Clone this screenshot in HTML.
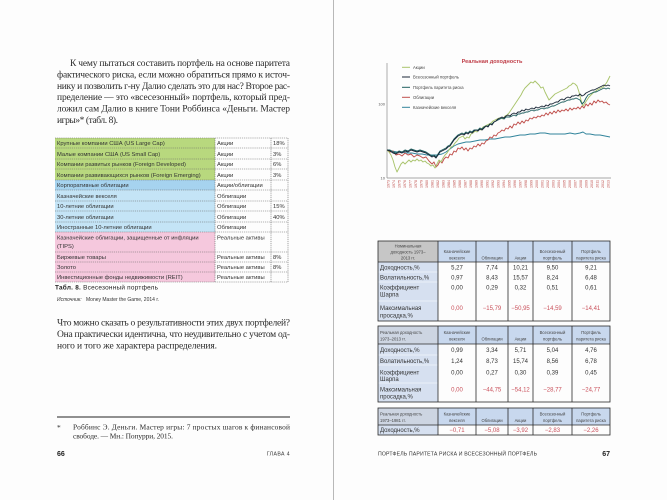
<!DOCTYPE html>
<html><head><meta charset="utf-8"><style>
html,body{margin:0;padding:0;background:#fdfdfd;}
svg{display:block;}
.s{font-family:"Liberation Serif","Noto Serif CJK SC",serif;fill:#2a2a2a;}
.a{font-family:"Liberation Sans","Noto Sans CJK SC",sans-serif;}
</style></head><body>
<svg width="667" height="500" viewBox="0 0 667 500" xmlns="http://www.w3.org/2000/svg">
<rect x="0" y="0" width="667" height="500" fill="#fdfdfd"/>
<line x1="333.5" y1="0" x2="333.5" y2="500" stroke="#b8b8b8" stroke-width="1"/>

<!-- LEFT PAGE TEXT -->
<g class="s" font-size="9.5">
<text x="70" y="66" textLength="220" lengthAdjust="spacing">К чему пытаться составить портфель на основе паритета</text>
<text x="57" y="77.4" textLength="233" lengthAdjust="spacing">фактического риска, если можно обратиться прямо к источ-</text>
<text x="57" y="88.8" textLength="233" lengthAdjust="spacing">нику и позволить г-ну Далио сделать это для нас? Второе рас-</text>
<text x="57" y="100.2" textLength="233" lengthAdjust="spacing">пределение — это «всесезонный» портфель, который пред-</text>
<text x="57" y="111.6" textLength="233" lengthAdjust="spacing">ложил сам Далио в книге Тони Роббинса «Деньги. Мастер</text>
<text x="57" y="123" textLength="61" lengthAdjust="spacing">игры»* (табл. 8).</text>

<text x="57" y="325.3" textLength="233" lengthAdjust="spacing">Что можно сказать о результативности этих двух портфелей?</text>
<text x="57" y="337" textLength="233" lengthAdjust="spacing">Она практически идентична, что неудивительно с учетом од-</text>
<text x="57" y="348.7" textLength="160" lengthAdjust="spacing">ного и того же характера распределения.</text>
</g>

<line x1="57" y1="417" x2="290" y2="417" stroke="#222" stroke-width="0.9"/>
<g class="s" font-size="7.4">
<text x="57" y="430">*</text>
<text x="73" y="429.5" textLength="217" lengthAdjust="spacing">Роббинс Э. Деньги. Мастер игры: 7 простых шагов к финансовой</text>
<text x="73" y="438.5" textLength="100" lengthAdjust="spacing">свободе. — Мн.: Попурри, 2015.</text>
</g>

<text class="a" x="57" y="456" font-size="7" font-weight="bold" fill="#222">66</text>
<text class="a" x="290" y="455.5" font-size="5.2" fill="#333" text-anchor="end" letter-spacing="0.4">ГЛАВА 4</text>

<!-- LEFT TABLE -->
<g>
<rect x="55" y="138" width="160" height="42" fill="#b8d87e"/>
<rect x="55" y="180" width="160" height="10" fill="#a6d3ef"/>
<rect x="55" y="190" width="160" height="42" fill="#c4e4f6"/>
<rect x="55" y="232" width="160" height="50" fill="#f5c8dd"/>
<g stroke="#666" stroke-width="0.6" stroke-dasharray="1.2,0.9" fill="none">
<line x1="55" y1="138" x2="288" y2="138"/>
<line x1="55" y1="148" x2="288" y2="148"/>
<line x1="55" y1="159" x2="288" y2="159"/>
<line x1="55" y1="169" x2="288" y2="169"/>
<line x1="55" y1="180" x2="288" y2="180"/>
<line x1="55" y1="190" x2="288" y2="190"/>
<line x1="55" y1="201" x2="288" y2="201"/>
<line x1="55" y1="211" x2="288" y2="211"/>
<line x1="55" y1="222" x2="288" y2="222"/>
<line x1="55" y1="232" x2="288" y2="232"/>
<line x1="55" y1="252" x2="288" y2="252"/>
<line x1="55" y1="262" x2="288" y2="262"/>
<line x1="55" y1="272" x2="288" y2="272"/>
<line x1="55" y1="282" x2="288" y2="282"/>
<line x1="215" y1="138" x2="215" y2="282"/>
<line x1="271" y1="138" x2="271" y2="282"/>
<line x1="288" y1="138" x2="288" y2="282"/>
</g>
<g class="a" font-size="5.8" fill="#333">
<text x="57" y="145.2">Крупные компании США (US Large Cap)</text>
<text x="57" y="155.8">Малые компании США (US Small Cap)</text>
<text x="57" y="166.2">Компании развитых рынков (Foreign Developed)</text>
<text x="57" y="176.8">Компании развивающихся рынков (Foreign Emerging)</text>
<text x="57" y="187.2">Корпоративные облигации</text>
<text x="57" y="197.8">Казначейские векселя</text>
<text x="57" y="208.2">10-летние облигации</text>
<text x="57" y="218.8">30-летние облигации</text>
<text x="57" y="229.2">Иностранные 10-летние облигации</text>
<text x="57" y="239.5">Казначейские облигации, защищенные от инфляции</text>
<text x="57" y="248">(TIPS)</text>
<text x="57" y="259.2">Биржевые товары</text>
<text x="57" y="269.2">Золото</text>
<text x="57" y="279.2">Инвестиционные фонды недвижимости (REIT)</text>

<text x="217" y="145.2">Акции</text>
<text x="217" y="155.8">Акции</text>
<text x="217" y="166.2">Акции</text>
<text x="217" y="176.8">Акции</text>
<text x="217" y="187.2">Акции/облигации</text>
<text x="217" y="197.8">Облигации</text>
<text x="217" y="208.2">Облигации</text>
<text x="217" y="218.8">Облигации</text>
<text x="217" y="229.2">Облигации</text>
<text x="217" y="239.5">Реальные активы</text>
<text x="217" y="259.2">Реальные активы</text>
<text x="217" y="269.2">Реальные активы</text>
<text x="217" y="279.2">Реальные активы</text>

<text x="273" y="145.2">18%</text>
<text x="273" y="155.8">3%</text>
<text x="273" y="166.2">6%</text>
<text x="273" y="176.8">3%</text>
<text x="273" y="208.2">15%</text>
<text x="273" y="218.8">40%</text>
<text x="273" y="259.2">8%</text>
<text x="273" y="269.2">8%</text>
</g>
<text class="a" x="55" y="289.6" font-size="6.4" fill="#222" textLength="103" lengthAdjust="spacing"><tspan font-weight="bold">Табл. 8.</tspan> Всесезонный портфель</text>
<text class="a" x="57" y="301" font-size="5" fill="#333" font-style="italic">Источник:</text>
<text class="a" x="86" y="301" font-size="5" fill="#333">Money Master the Game, 2014 г.</text>
</g>

<!-- CHART -->
<g>
<text class="a" x="492" y="63" font-size="5.6" fill="#c0404a" text-anchor="middle" font-weight="bold">Реальная доходность</text>
<line x1="387" y1="63" x2="387" y2="178" stroke="#8a8a8a" stroke-width="0.7"/>
<line x1="387" y1="178" x2="611" y2="178" stroke="#8a8a8a" stroke-width="0.7"/>
<text class="a" x="385" y="105.5" font-size="4" fill="#555" text-anchor="end">100</text>
<text class="a" x="385" y="179.5" font-size="4" fill="#555" text-anchor="end">10</text>

<g stroke-width="1">
<line x1="402" y1="67.3" x2="410" y2="67.3" stroke="#a9c46c"/>
<line x1="402" y1="77" x2="410" y2="77" stroke="#1b2838"/>
<line x1="402" y1="87.3" x2="410" y2="87.3" stroke="#1f6060"/>
<line x1="402" y1="97.3" x2="410" y2="97.3" stroke="#c0504d"/>
<line x1="402" y1="107.3" x2="410" y2="107.3" stroke="#31849b"/>
</g>
<g class="a" font-size="4.2" fill="#444">
<text x="413" y="68.8">Акции</text>
<text x="413" y="78.5">Всесезонный портфель</text>
<text x="413" y="88.8">Портфель паритета риска</text>
<text x="413" y="98.8">Облигации</text>
<text x="413" y="108.8">Казначейские векселя</text>
</g>

<g fill="none" stroke-linejoin="round" stroke-width="0.95">
<polyline stroke="#31849b" points="387,150 392,151 397,152 402,152 407,153 412,153 417,154 422,154 427,155 432,155 437,155 442,154 446,152 450,149 454,146 458,144 462,143 466,142 470,142 475,141 480,140 485,140 490,139 495,139 500,138 505,137 510,137 515,136 520,135 525,135 530,134 535,134 540,133 545,133 550,134 555,134 560,134 565,134 570,133 575,134 580,133 583,132 586,134 590,134 595,135 600,135 605,136 610,137"/>
<polyline stroke="#c0504d" points="387,150 390,152 393,151 396,155 399,154 402,156 405,153 408,155 411,154 414,157 417,155 420,156 423,158 426,157 429,161 432,164 434,162 436,167 438,165 440,161 442,163 444,159 446,157 448,158 450,154 452,155 454,151 456,152 458,148 460,149 462,147 464,150 466,148 468,151 470,148 472,149 474,146 476,147 478,144 480,146 482,143 484,144 486,141 488,140 490,137 492,138 494,135 496,136 498,133 500,132 502,130 504,131 506,128 508,129 510,126 512,128 514,124 516,125 518,122 520,124 522,121 524,123 526,120 528,121 530,118 532,119 534,117 536,118 538,116 540,117 542,115 544,116 546,113 548,115 550,112 552,114 554,111 556,113 558,110 560,112 562,110 564,111 566,109 568,111 570,108 572,110 574,108 576,109 578,107 580,109 582,106 584,108 586,104 588,106 590,103 592,105 594,101 596,103 598,100 600,102 602,101 604,103 606,102 608,104 610,105"/>
<polyline stroke="#a9c46c" points="387,150 389,152 391,155 393,160 395,167 397,172 399,168 401,164 403,162 405,164 407,162 409,160 411,162 413,160 415,161 417,159 419,161 421,160 423,162 425,161 427,163 429,164 431,166 433,165 435,168 437,164 439,160 441,162 443,158 445,155 447,153 449,150 451,147 453,146 455,143 457,141 459,138 461,137 463,136 465,139 467,137 469,138 471,134 473,133 475,131 477,132 479,129 481,130 483,127 485,126 487,125 489,124 491,123 493,121 495,120 497,119 499,118 501,118 503,119 505,116 507,115 509,113 511,110 513,107 515,104 517,101 519,98 521,95 523,91 525,88 527,86 529,84 531,82 533,83 535,81 537,83 539,85 541,88 543,87 545,92 547,96 549,100 551,98 553,96 555,94 557,93 559,92 561,91 563,90 565,89 567,88 569,86 571,85 573,83 575,84 577,86 579,92 581,100 583,106 585,103 587,100 589,97 591,95 593,93 595,92 597,90 599,89 601,88 603,87 605,85 607,82 609,78 610,76"/>
<polyline stroke="#1f6060" points="387,150 390,150 393,152 396,153 399,151 402,152 405,150 408,151 411,149 414,150 417,151 420,150 423,151 426,152 429,154 432,156 434,155 436,157 438,154 440,151 442,150 444,149 446,148 448,146 450,145 452,142 454,139 456,137 458,135 460,134 462,133 464,134 466,132 468,133 470,131 472,132 474,130 476,130 478,130 480,128 482,129 484,127 486,126 488,126 490,124 492,124 494,122 496,121 498,120 500,119 502,118 504,119 506,117 508,117 510,117 512,116 514,115 516,116 518,114 520,114 522,113 524,113 526,112 528,112 530,111 532,110 534,111 536,110 538,110 540,109 542,108 544,109 546,108 548,108 550,107 552,106 554,106 556,105 558,104 560,103 562,102 564,102 566,101 568,100 570,100 572,99 574,99 576,98 578,99 580,100 582,104 584,102 586,98 588,95 590,94 592,93 594,92 596,92 598,91 600,90 602,89 604,88 606,89 608,88 610,89"/>
<polyline stroke="#1b2838" points="387,150 390,151 393,153 396,154 399,152 402,153 405,151 408,152 411,150 414,151 417,152 420,151 423,152 426,153 429,155 432,157 434,156 436,158 438,155 440,152 442,151 444,150 446,149 448,147 450,146 452,143 454,140 456,138 458,136 460,135 462,134 464,135 466,133 468,134 470,132 472,133 474,131 476,130 478,131 480,129 482,130 484,128 486,126 488,127 490,124 492,125 494,122 496,121 498,119 500,118 502,117 504,118 506,116 508,115 510,116 512,114 514,113 516,114 518,112 520,112 522,110 524,111 526,109 528,110 530,109 532,108 534,109 536,107 538,108 540,107 542,106 544,107 546,105 548,106 550,104 552,104 554,103 556,102 558,102 560,100 562,99 564,100 566,98 568,97 570,98 572,96 574,96 576,95 578,96 580,94 582,96 584,95 586,93 588,92 590,91 592,90 594,90 596,89 598,88 600,87 602,86 604,85 606,86 608,85 610,86"/>
</g>

<g class="a" font-size="3.6" fill="#c0504d" text-anchor="end">
<text transform="translate(389.3,180) rotate(-90)">1973</text>
<text transform="translate(394.8,180) rotate(-90)">1974</text>
<text transform="translate(400.3,180) rotate(-90)">1975</text>
<text transform="translate(405.8,180) rotate(-90)">1976</text>
<text transform="translate(411.3,180) rotate(-90)">1977</text>
<text transform="translate(416.8,180) rotate(-90)">1978</text>
<text transform="translate(422.3,180) rotate(-90)">1979</text>
<text transform="translate(427.8,180) rotate(-90)">1980</text>
<text transform="translate(433.3,180) rotate(-90)">1981</text>
<text transform="translate(438.8,180) rotate(-90)">1982</text>
<text transform="translate(444.3,180) rotate(-90)">1983</text>
<text transform="translate(449.8,180) rotate(-90)">1984</text>
<text transform="translate(455.3,180) rotate(-90)">1985</text>
<text transform="translate(460.8,180) rotate(-90)">1986</text>
<text transform="translate(466.3,180) rotate(-90)">1987</text>
<text transform="translate(471.8,180) rotate(-90)">1988</text>
<text transform="translate(477.3,180) rotate(-90)">1989</text>
<text transform="translate(482.8,180) rotate(-90)">1990</text>
<text transform="translate(488.3,180) rotate(-90)">1991</text>
<text transform="translate(493.8,180) rotate(-90)">1992</text>
<text transform="translate(499.3,180) rotate(-90)">1993</text>
<text transform="translate(504.8,180) rotate(-90)">1994</text>
<text transform="translate(510.3,180) rotate(-90)">1995</text>
<text transform="translate(515.8,180) rotate(-90)">1996</text>
<text transform="translate(521.3,180) rotate(-90)">1997</text>
<text transform="translate(526.8,180) rotate(-90)">1998</text>
<text transform="translate(532.3,180) rotate(-90)">1999</text>
<text transform="translate(537.8,180) rotate(-90)">2000</text>
<text transform="translate(543.3,180) rotate(-90)">2001</text>
<text transform="translate(548.8,180) rotate(-90)">2002</text>
<text transform="translate(554.3,180) rotate(-90)">2003</text>
<text transform="translate(559.8,180) rotate(-90)">2004</text>
<text transform="translate(565.3,180) rotate(-90)">2005</text>
<text transform="translate(570.8,180) rotate(-90)">2006</text>
<text transform="translate(576.3,180) rotate(-90)">2007</text>
<text transform="translate(581.8,180) rotate(-90)">2008</text>
<text transform="translate(587.3,180) rotate(-90)">2009</text>
<text transform="translate(592.8,180) rotate(-90)">2010</text>
<text transform="translate(598.3,180) rotate(-90)">2011</text>
<text transform="translate(603.8,180) rotate(-90)">2012</text>
<text transform="translate(609.3,180) rotate(-90)">2013</text>
</g>
</g>

<!-- RIGHT TABLE 1 -->
<g>
<rect x="378" y="241" width="60" height="21" fill="#c6c6c6"/>
<rect x="438" y="241" width="172" height="21" fill="#c8d8ee"/>
<rect x="378" y="262" width="60" height="59" fill="#d6e0f0"/>
<g stroke="#fff" stroke-width="0.6">
<line x1="378" y1="272" x2="438" y2="272"/><line x1="378" y1="282" x2="438" y2="282"/><line x1="378" y1="301" x2="438" y2="301"/>
</g>
<g stroke="#2a2a2a" stroke-width="0.8" fill="none">
<rect x="378" y="241" width="232" height="80"/>
<line x1="378" y1="262" x2="610" y2="262"/>
<line x1="438" y1="241" x2="438" y2="321"/><line x1="476" y1="241" x2="476" y2="321"/><line x1="508" y1="241" x2="508" y2="321"/><line x1="533" y1="241" x2="533" y2="321"/><line x1="572" y1="241" x2="572" y2="321"/>
</g>
<g class="a" font-size="4.2" fill="#444" text-anchor="middle">
<text x="408" y="247.5">Номинальная</text>
<text x="408" y="253.5">доходность 1973–</text>
<text x="408" y="259.5">2013 гг.</text>
<text x="457" y="253">Казначейские</text><text x="457" y="259.5">векселя</text>
<text x="492" y="259.5">Облигации</text>
<text x="520.5" y="259.5">Акции</text>
<text x="552.5" y="253">Всесезонный</text><text x="552.5" y="259.5">портфель</text>
<text x="591" y="253">Портфель</text><text x="591" y="259.5">паритета риска</text>
</g>
<g class="a" font-size="6" fill="#333">
<text x="380" y="269.5">Доходность,%</text>
<text x="380" y="279.5">Волатильность,%</text>
<text x="380" y="289.5">Коэффициент</text><text x="380" y="296.5">Шарпа</text>
<text x="380" y="310">Максимальная</text><text x="380" y="317.5">просадка,%</text>
</g>
<g class="a" font-size="6" fill="#333" text-anchor="middle">
<text x="457" y="269.5">5,27</text><text x="492" y="269.5">7,74</text><text x="520.5" y="269.5">10,21</text><text x="552.5" y="269.5">9,50</text><text x="591" y="269.5">9,21</text>
<text x="457" y="279.5">0,97</text><text x="492" y="279.5">8,43</text><text x="520.5" y="279.5">15,57</text><text x="552.5" y="279.5">8,24</text><text x="591" y="279.5">6,48</text>
<text x="457" y="289.5">0,00</text><text x="492" y="289.5">0,29</text><text x="520.5" y="289.5">0,32</text><text x="552.5" y="289.5">0,51</text><text x="591" y="289.5">0,61</text>
</g>
<g class="a" font-size="6" fill="#c9505a" text-anchor="middle">
<text x="457" y="310">0,00</text><text x="492" y="310">−15,79</text><text x="520.5" y="310">−50,95</text><text x="552.5" y="310">−14,59</text><text x="591" y="310">−14,41</text>
</g>
</g>

<!-- RIGHT TABLE 2 -->
<g>
<rect x="378" y="326" width="60" height="18" fill="#cdd5e2"/>
<rect x="438" y="326" width="172" height="18" fill="#c8d8ee"/>
<rect x="378" y="344" width="60" height="58" fill="#d6e0f0"/>
<g stroke="#fff" stroke-width="0.6">
<line x1="378" y1="355" x2="438" y2="355"/><line x1="378" y1="365" x2="438" y2="365"/><line x1="378" y1="383" x2="438" y2="383"/>
</g>
<g stroke="#2a2a2a" stroke-width="0.8" fill="none">
<rect x="378" y="326" width="232" height="76"/>
<line x1="378" y1="344" x2="610" y2="344"/>
<line x1="438" y1="326" x2="438" y2="402"/><line x1="476" y1="326" x2="476" y2="402"/><line x1="508" y1="326" x2="508" y2="402"/><line x1="533" y1="326" x2="533" y2="402"/><line x1="572" y1="326" x2="572" y2="402"/>
</g>
<g class="a" font-size="4.2" fill="#444">
<text x="380" y="334">Реальная доходность</text>
<text x="380" y="340.5">1973–2013 гг.</text>
</g>
<g class="a" font-size="4.2" fill="#444" text-anchor="middle">
<text x="457" y="334">Казначейские</text><text x="457" y="340.5">векселя</text>
<text x="492" y="340.5">Облигации</text>
<text x="520.5" y="340.5">Акции</text>
<text x="552.5" y="334">Всесезонный</text><text x="552.5" y="340.5">портфель</text>
<text x="591" y="334">Портфель</text><text x="591" y="340.5">паритета риска</text>
</g>
<g class="a" font-size="6" fill="#333">
<text x="380" y="352">Доходность,%</text>
<text x="380" y="363">Волатильность,%</text>
<text x="380" y="374.5">Коэффициент</text><text x="380" y="381">Шарпа</text>
<text x="380" y="391.5">Максимальная</text><text x="380" y="398.5">просадка,%</text>
</g>
<g class="a" font-size="6" fill="#333" text-anchor="middle">
<text x="457" y="352">0,99</text><text x="492" y="352">3,34</text><text x="520.5" y="352">5,71</text><text x="552.5" y="352">5,04</text><text x="591" y="352">4,76</text>
<text x="457" y="363">1,24</text><text x="492" y="363">8,73</text><text x="520.5" y="363">15,74</text><text x="552.5" y="363">8,56</text><text x="591" y="363">6,78</text>
<text x="457" y="374.5">0,00</text><text x="492" y="374.5">0,27</text><text x="520.5" y="374.5">0,30</text><text x="552.5" y="374.5">0,39</text><text x="591" y="374.5">0,45</text>
</g>
<g class="a" font-size="6" fill="#c9505a" text-anchor="middle">
<text x="457" y="391.5">0,00</text><text x="492" y="391.5">−44,75</text><text x="520.5" y="391.5">−54,12</text><text x="552.5" y="391.5">−28,77</text><text x="591" y="391.5">−24,77</text>
</g>
</g>

<!-- RIGHT TABLE 3 -->
<g>
<rect x="378" y="408" width="60" height="17" fill="#cdd5e2"/>
<rect x="438" y="408" width="172" height="17" fill="#c8d8ee"/>
<rect x="378" y="425" width="60" height="10" fill="#d6e0f0"/>
<g stroke="#2a2a2a" stroke-width="0.8" fill="none">
<rect x="378" y="408" width="232" height="27"/>
<line x1="378" y1="425" x2="610" y2="425"/>
<line x1="438" y1="408" x2="438" y2="435"/><line x1="476" y1="408" x2="476" y2="435"/><line x1="508" y1="408" x2="508" y2="435"/><line x1="533" y1="408" x2="533" y2="435"/><line x1="572" y1="408" x2="572" y2="435"/>
</g>
<g class="a" font-size="4.2" fill="#444">
<text x="380" y="415.5">Реальная доходность</text>
<text x="380" y="422">1973–1981 гг.</text>
</g>
<g class="a" font-size="4.2" fill="#444" text-anchor="middle">
<text x="457" y="415.5">Казначейские</text><text x="457" y="422">векселя</text>
<text x="492" y="422">Облигации</text>
<text x="520.5" y="422">Акции</text>
<text x="552.5" y="415.5">Всесезонный</text><text x="552.5" y="422">портфель</text>
<text x="591" y="415.5">Портфель</text><text x="591" y="422">паритета риска</text>
</g>
<text class="a" x="380" y="432.2" font-size="6" fill="#333">Доходность,%</text>
<g class="a" font-size="6" fill="#c9505a" text-anchor="middle">
<text x="457" y="432.2">−0,71</text><text x="492" y="432.2">−5,08</text><text x="520.5" y="432.2">−3,92</text><text x="552.5" y="432.2">−2,83</text><text x="591" y="432.2">−2,26</text>
</g>
</g>

<!-- RIGHT FOOTER -->
<text class="a" x="378" y="455.5" font-size="5.2" fill="#333" textLength="159" lengthAdjust="spacing">ПОРТФЕЛЬ ПАРИТЕТА РИСКА И ВСЕСЕЗОННЫЙ ПОРТФЕЛЬ</text>
<text class="a" x="610" y="456" font-size="7" font-weight="bold" fill="#222" text-anchor="end">67</text>
</svg>
</body></html>
